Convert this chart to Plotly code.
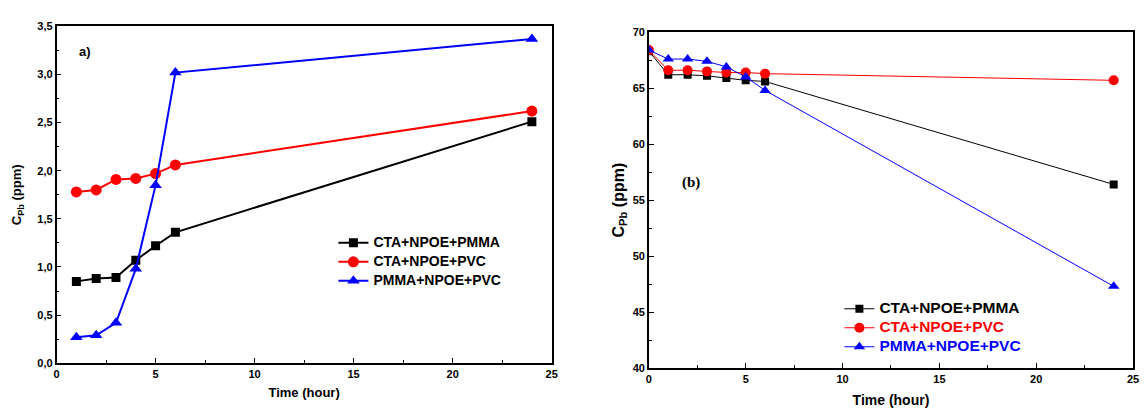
import plotly.graph_objects as go

# Panel a) : Pb concentration in the receiving phase
time_a = [1, 2, 3, 4, 5, 6, 24]
a_cta_pmma = [0.85, 0.88, 0.89, 1.07, 1.22, 1.36, 2.51]
a_cta_pvc = [1.78, 1.80, 1.91, 1.92, 1.97, 2.06, 2.62]
a_pmma_pvc = [0.27, 0.29, 0.42, 0.98, 1.85, 3.02, 3.37]

# Panel (b) : Pb concentration in the source phase
time_b = [0, 1, 2, 3, 4, 5, 6, 24]
b_cta_pmma = [68.3, 66.2, 66.2, 66.1, 65.9, 65.7, 65.6, 56.4]
b_cta_pvc = [68.4, 66.6, 66.6, 66.5, 66.4, 66.4, 66.3, 65.7]
b_pmma_pvc = [68.4, 67.6, 67.6, 67.4, 66.9, 66.0, 64.8, 47.3]

series_names = ["CTA+NPOE+PMMA", "CTA+NPOE+PVC", "PMMA+NPOE+PVC"]
colors = ["#000000", "#ff0000", "#0000ff"]
symbols = ["square", "circle", "triangle-up"]

x_ticks = [0, 5, 10, 15, 20, 25]
ya_ticks = [0.0, 0.5, 1.0, 1.5, 2.0, 2.5, 3.0, 3.5]
ya_labels = ["0,0", "0,5", "1,0", "1,5", "2,0", "2,5", "3,0", "3,5"]
yb_ticks = [40, 45, 50, 55, 60, 65, 70]

W, H = 1148, 408
FONT = "Arial, Liberation Sans, sans-serif"

def px(x):
    return x / W

def py(y):
    return 1 - y / H

fig = go.Figure()

for name, ys, c, s, ms in zip(series_names, [a_cta_pmma, a_cta_pvc, a_pmma_pvc],
                              colors, symbols, [9, 11, 11]):
    label = f"<span style='font-size:14px'>{name}</span>"
    fig.add_trace(go.Scatter(x=time_a, y=ys, name=label, mode="lines+markers",
                             line=dict(color=c, width=2),
                             marker=dict(symbol=s, size=ms, color=c),
                             xaxis="x", yaxis="y", legend="legend"))

for name, ys, c, s, ms in zip(series_names, [b_cta_pmma, b_cta_pvc, b_pmma_pvc],
                              colors, symbols, [8, 10, 10]):
    label = f"<span style='color:{c};font-size:15.5px'>{name}</span>"
    fig.add_trace(go.Scatter(x=time_b, y=ys, name=label, mode="lines+markers",
                             line=dict(color=c, width=1),
                             marker=dict(symbol=s, size=ms, color=c),
                             xaxis="x2", yaxis="y2", legend="legend2"))

tickfont = dict(family=FONT, size=11, color="black", weight="bold")
axis_common = dict(showline=True, mirror=True, linecolor="black", linewidth=1.5,
                   ticks="inside", ticklen=5, tickcolor="black", showgrid=False,
                   zeroline=False, tickfont=tickfont)

fig.update_layout(
    width=W, height=H,
    margin=dict(l=0, r=0, t=0, b=0),
    paper_bgcolor="white", plot_bgcolor="white",
    font=dict(family=FONT, color="black"),
    xaxis=dict(domain=[px(54), px(553)], range=[0, 25], tickvals=x_ticks,
               anchor="y", minor=dict(ticks="inside", ticklen=3, dtick=2.5, tickcolor="black"),
               title=dict(text="Time (hour)", font=dict(family=FONT, size=13, weight="bold"),
                          standoff=9),
               **axis_common),
    yaxis=dict(domain=[py(368), py(21)], range=[0, 3.5], tickvals=ya_ticks,
               ticktext=ya_labels, anchor="x",
               minor=dict(ticks="inside", ticklen=3, dtick=0.25, tickcolor="black"),
               title=dict(text="C<sub>Pb</sub> (ppm)", font=dict(family=FONT, size=13, weight="bold"),
                          standoff=13),
               **axis_common),
    xaxis2=dict(domain=[px(651), px(1139)], range=[0, 25], tickvals=x_ticks,
                anchor="y2", minor=dict(ticks="inside", ticklen=3, dtick=2.5, tickcolor="black"),
                title=dict(text="Time (hour)", font=dict(family=FONT, size=14, weight="bold"),
                           standoff=11),
                **axis_common),
    yaxis2=dict(domain=[py(373), py(27)], range=[40, 70], tickvals=yb_ticks, anchor="x2",
                minor=dict(ticks="inside", ticklen=3, dtick=2.5, tickcolor="black"),
                title=dict(text="C<sub>Pb</sub> (ppm)", font=dict(family=FONT, size=16, weight="bold"),
                           standoff=4),
                **axis_common),
    legend=dict(x=px(333), y=py(229), xanchor="left", yanchor="top",
                bgcolor="rgba(0,0,0,0)", tracegroupgap=0, itemwidth=30,
                font=dict(family=FONT, size=11, color="black", weight="bold")),
    legend2=dict(x=px(843), y=py(297), xanchor="left", yanchor="top",
                 bgcolor="rgba(0,0,0,0)", tracegroupgap=0, itemwidth=30,
                 font=dict(family=FONT, size=11, color="black", weight="bold")),
    annotations=[
        dict(text="a)", x=px(75), y=py(47), xref="paper", yref="paper",
             xanchor="left", yanchor="middle", showarrow=False,
             font=dict(family=FONT, size=13, weight="bold", color="black")),
        dict(text="(b)", x=px(682), y=py(182), xref="paper", yref="paper",
             xanchor="left", yanchor="middle", showarrow=False,
             font=dict(family="Liberation Serif, Times New Roman, serif", size=15,
                       weight="bold", color="black")),
    ],
)

fig.write_html("out.html")
